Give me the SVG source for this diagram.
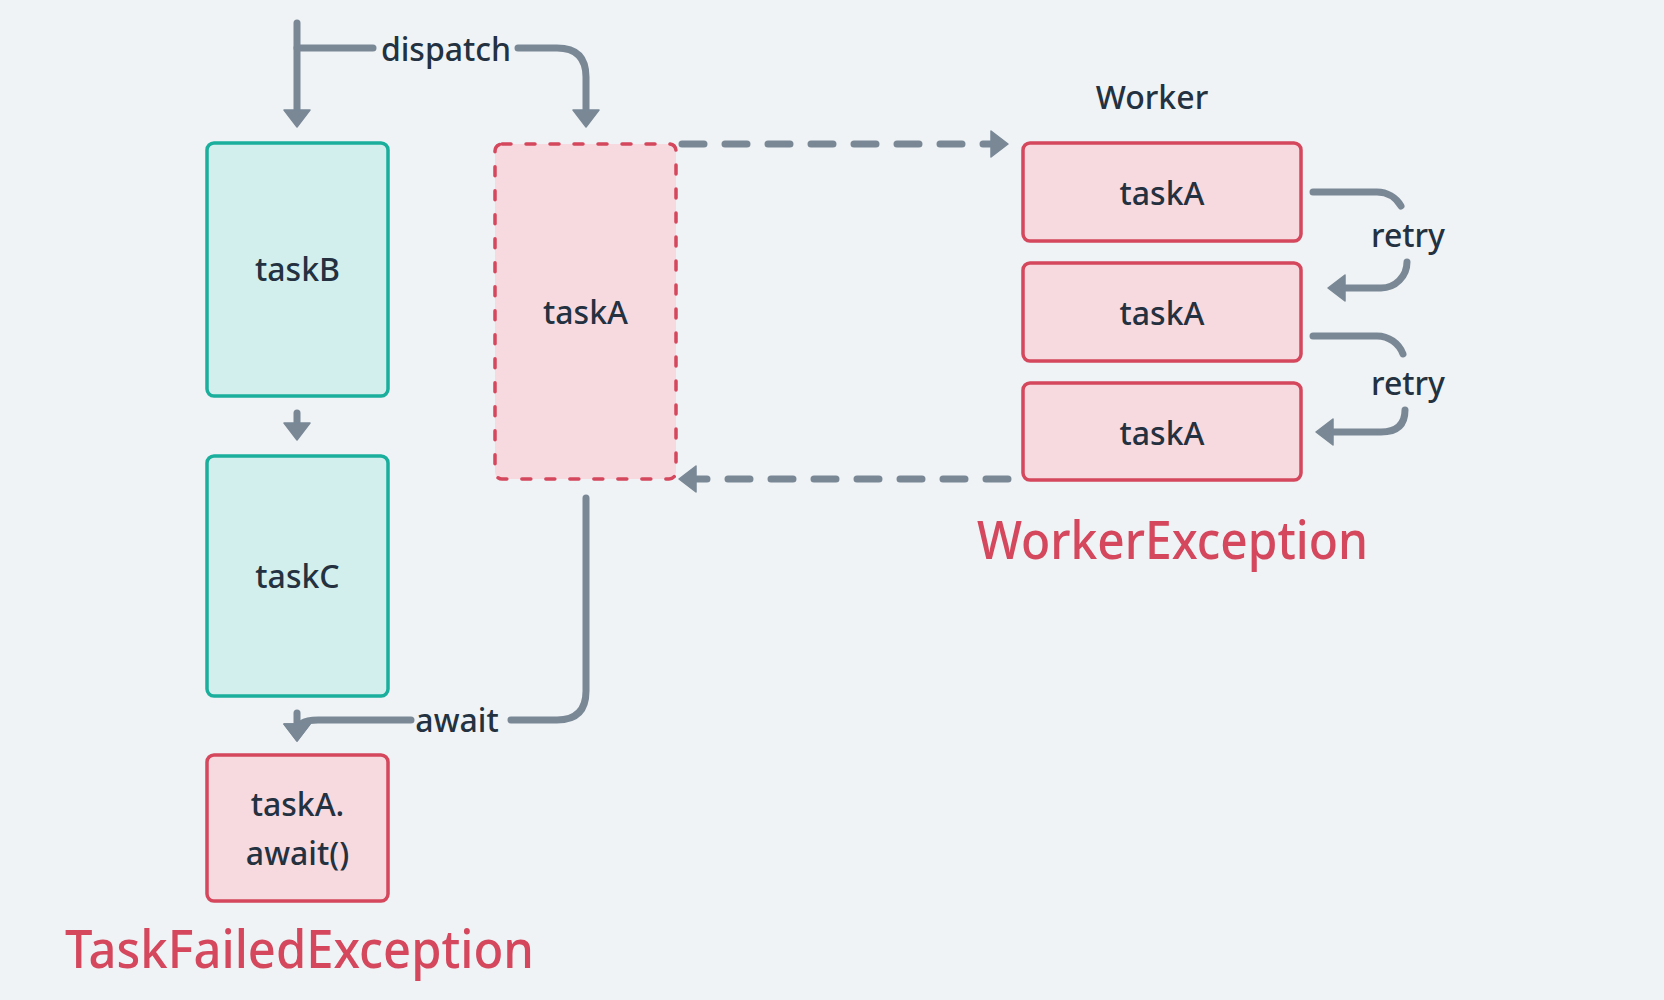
<svg xmlns="http://www.w3.org/2000/svg" width="1664" height="1000" viewBox="0 0 1664 1000">
<defs>
<style>
.bg{fill:#eff3f6}
.lbl{font-family:"Noto Sans","Liberation Sans",sans-serif;font-size:32px;font-weight:500;fill:#233140;text-anchor:middle}
.exc{font-family:"Noto Sans","Liberation Sans",sans-serif;font-size:52px;font-weight:500;fill:#d4475c}
.teal{fill:#d3efed;stroke:#1aaf9c;stroke-width:3.5}
.red{fill:#f7dadf;stroke:#d4475c;stroke-width:3.5}
.reddash{fill:#f7dadf;stroke:#d4475c;stroke-width:3.5;stroke-dasharray:9 15;stroke-linecap:round}
.con{fill:none;stroke:#7a8896;stroke-width:7;stroke-linecap:round;stroke-linejoin:round}
.dash{stroke-dasharray:22 21}
</style>
<marker id="ah" markerUnits="userSpaceOnUse" markerWidth="30" markerHeight="30" refX="8" refY="13" orient="auto" overflow="visible">
<path d="M0,0 L17,13 L0,26 z" fill="#7a8896" stroke="#7a8896" stroke-width="1.5" stroke-linejoin="round"/>
</marker>
</defs>
<rect class="bg" x="0" y="0" width="1664" height="1000"/>

<g id="connectors">
<path class="con" d="M297,23 V118" marker-end="url(#ah)"/>
<path class="con" d="M297,48 H373"/>
<path class="con" d="M518,48 H557 Q586,48 586,77 V118" marker-end="url(#ah)"/>
<path class="con dash" d="M682,144 H999" marker-end="url(#ah)"/>
<path class="con dash" d="M1008,479 H688" marker-end="url(#ah)"/>
<path class="con" d="M297,413 V431" marker-end="url(#ah)"/>
<path class="con" d="M297,713 V732" marker-end="url(#ah)"/>
<path class="con" d="M586,498 V691 Q586,720 557,720 H511"/>
<path class="con" d="M411,720 H318 Q297,720 297,732" marker-end="url(#ah)"/>
<path class="con" d="M1313,192 H1377 A28,28 0 0 1 1401,206"/>
<path class="con" d="M1407,262 A26,26 0 0 1 1381,288 H1337" marker-end="url(#ah)"/>
<path class="con" d="M1313,336 H1377 A28,28 0 0 1 1403,354"/>
<path class="con" d="M1405,410 Q1405,432 1381,432 H1325" marker-end="url(#ah)"/>
<text class="lbl" x="446" y="61">dispatch</text>
<text class="lbl" x="457" y="732">await</text>
<text class="lbl" x="1408" y="247">retry</text>
<text class="lbl" x="1408" y="395">retry</text>
</g>

<g id="taskB">
<rect class="teal" x="207" y="143" width="181" height="253" rx="7"/>
<text class="lbl" x="297.5" y="281">taskB</text>
</g>
<g id="taskC">
<rect class="teal" x="207" y="456" width="181" height="240" rx="7"/>
<text class="lbl" x="297.5" y="588">taskC</text>
</g>
<g id="taskA-await">
<rect class="red" x="207" y="755" width="181" height="146" rx="7"/>
<text class="lbl" x="297.5" y="816">taskA.</text>
<text class="lbl" x="297.5" y="865">await()</text>
</g>
<g id="taskA-main">
<rect class="reddash" x="495" y="144" width="181" height="335" rx="7"/>
<text class="lbl" x="585.5" y="324">taskA</text>
</g>
<g id="worker-label">
<text class="lbl" x="1152" y="109">Worker</text>
</g>
<g id="worker-taskA-1">
<rect class="red" x="1023" y="143" width="278" height="98" rx="7"/>
<text class="lbl" x="1162" y="205">taskA</text>
</g>
<g id="worker-taskA-2">
<rect class="red" x="1023" y="263" width="278" height="98" rx="7"/>
<text class="lbl" x="1162" y="325">taskA</text>
</g>
<g id="worker-taskA-3">
<rect class="red" x="1023" y="383" width="278" height="97" rx="7"/>
<text class="lbl" x="1162" y="445">taskA</text>
</g>
<g id="worker-exception">
<text class="exc" x="977" y="559" textLength="391" lengthAdjust="spacingAndGlyphs">WorkerException</text>
</g>
<g id="task-failed-exception">
<text class="exc" x="65" y="968" textLength="469" lengthAdjust="spacingAndGlyphs">TaskFailedException</text>
</g>
</svg>
